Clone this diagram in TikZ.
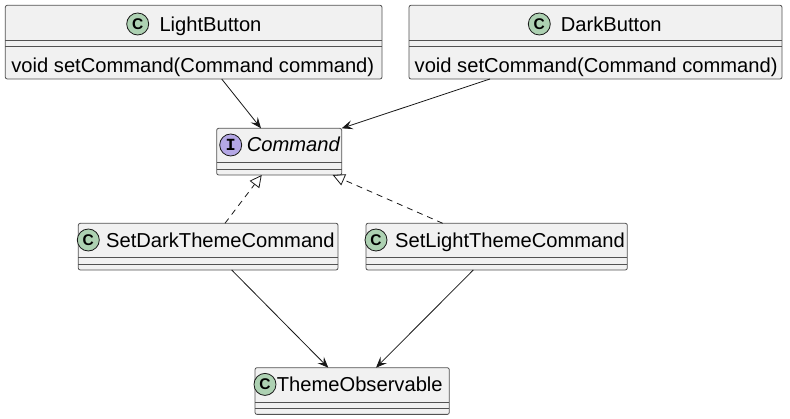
\documentclass[tikz,border=0pt]{standalone}
\usepackage{fontspec}
\setmainfont{Liberation Sans}
\newfontfamily\monofnt{Liberation Mono}
\usetikzlibrary{arrows.meta}
\definecolor{boxfill}{HTML}{F1F1F1}
\definecolor{boxline}{HTML}{181818}
\definecolor{cgreen}{HTML}{ADD1B2}
\definecolor{ipurple}{HTML}{B4A7E5}
\tikzset{
  classbox/.style={draw=boxline!75, fill=boxfill, line width=0.8pt, rounded corners=2pt, inner sep=0pt, outer sep=0pt, anchor=north west},
  sepline/.style={draw=boxline!75, line width=0.8pt},
  ctext/.style={inner sep=0pt, anchor=base west, font=\fontsize{20.15}{24}\selectfont},
  cicon/.style={circle, draw=boxline, line width=0.8pt, fill=cgreen, minimum size=22pt, inner sep=0pt, font=\fontsize{15.5}{15.5}\selectfont\bfseries},
  iicon/.style={cicon, fill=ipurple, font=\fontsize{17}{17}\selectfont\monofnt\bfseries},
  assoc/.style={draw=boxline, line width=0.8pt, -{Stealth[length=11pt,width=9pt,inset=4.5pt]}},
  realize/.style={draw=boxline, line width=0.8pt, dash pattern=on 6pt off 5pt, -{Triangle[open,length=12pt,width=12pt]}},
}
\begin{document}
\begin{tikzpicture}[x=1pt,y=-1pt]
\useasboundingbox[fill=white] (0,0) rectangle (790,419);

% LightButton
\node[classbox, minimum width=376.7pt, minimum height=73.7pt] (lb) at (5.3,5.3) {};
\draw[sepline] ([yshift=-35.4pt]lb.north west) -- ([yshift=-35.4pt]lb.north east);
\draw[sepline] ([yshift=-40.7pt]lb.north west) -- ([yshift=-40.7pt]lb.north east);
\node[cicon] (lbi) at (137.7,24) {C};
\node[ctext] (lbt) at (159.3,31.7) {LightButton};
\node[ctext] (lbm) at (11.2,72.3) {void setCommand(Command command)};

% DarkButton
\node[classbox, minimum width=373pt, minimum height=73.7pt] (db) at (409,5.3) {};
\draw[sepline] ([yshift=-35.4pt]db.north west) -- ([yshift=-35.4pt]db.north east);
\draw[sepline] ([yshift=-40.7pt]db.north west) -- ([yshift=-40.7pt]db.north east);
\node[cicon] (dbi) at (539.3,24) {C};
\node[ctext] (dbt) at (560.7,31.7) {DarkButton};
\node[ctext] (dbm) at (414.5,72.3) {void setCommand(Command command)};

% Command
\node[classbox, minimum width=125pt, minimum height=46.7pt] (cmd) at (216.7,128.3) {};
\draw[sepline] ([yshift=-34.4pt]cmd.north west) -- ([yshift=-34.4pt]cmd.north east);
\draw[sepline] ([yshift=-41pt]cmd.north west) -- ([yshift=-41pt]cmd.north east);
\node[iicon] (cmdi) at (230.7,145) {I};
\node[ctext, font=\fontsize{20.15}{24}\selectfont\itshape] (cmdt) at (246.7,151.7) {Command};

% SetDarkThemeCommand
\node[classbox, minimum width=259.7pt, minimum height=46.7pt] (sd) at (78.3,223.3) {};
\draw[sepline] ([yshift=-34.4pt]sd.north west) -- ([yshift=-34.4pt]sd.north east);
\draw[sepline] ([yshift=-41pt]sd.north west) -- ([yshift=-41pt]sd.north east);
\node[cicon] (sdi) at (88.3,240) {C};
\node[ctext] (sdt) at (106,247.7) {SetDarkThemeCommand};

% SetLightThemeCommand
\node[classbox, minimum width=261.3pt, minimum height=46.7pt] (sl) at (366,223.3) {};
\draw[sepline] ([yshift=-34.4pt]sl.north west) -- ([yshift=-34.4pt]sl.north east);
\draw[sepline] ([yshift=-41pt]sl.north west) -- ([yshift=-41pt]sl.north east);
\node[cicon] (sli) at (376,240) {C};
\node[ctext] (slt) at (395,247.7) {SetLightThemeCommand};

% ThemeObservable
\node[classbox, minimum width=194.3pt, minimum height=46.7pt] (to) at (255,367.7) {};
\draw[sepline] ([yshift=-34.4pt]to.north west) -- ([yshift=-34.4pt]to.north east);
\draw[sepline] ([yshift=-41pt]to.north west) -- ([yshift=-41pt]to.north east);
\node[cicon] (toi) at (265,384.4) {C};
\node[ctext] (tot) at (276.7,392) {ThemeObservable};

% connectors
\draw[assoc] ([xshift=216.4pt]lb.south west) -- ([xshift=44.3pt]cmd.north west);
\draw[assoc] ([xshift=81pt]db.south west) -- (cmd.north east);
\draw[realize] ([xshift=146.7pt]sd.north west) -- ([xshift=45pt]cmd.south west);
\draw[realize] ([xshift=76.7pt]sl.north west) -- ([xshift=-9pt]cmd.south east);
\draw[assoc] ([xshift=153.4pt]sd.south west) -- ([xshift=73.3pt]to.north west);
\draw[assoc] ([xshift=107.3pt]sl.south west) -- ([xshift=121pt]to.north west);
\end{tikzpicture}
\end{document}
